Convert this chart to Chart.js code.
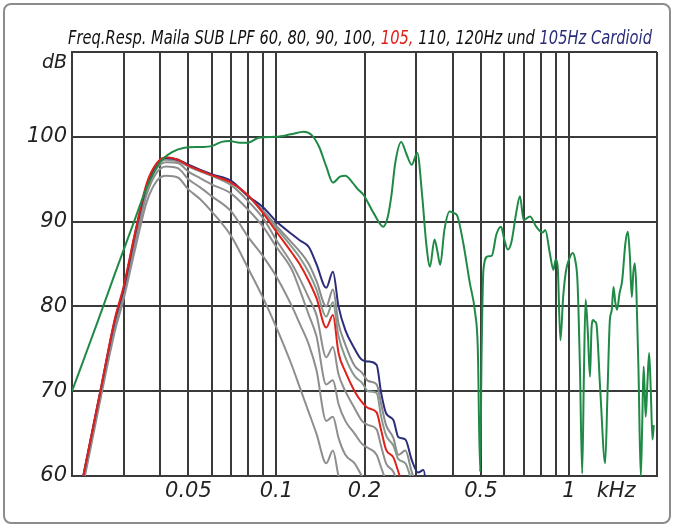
<!DOCTYPE html>
<html><head><meta charset="utf-8">
<script src="https://cdn.jsdelivr.net/npm/chart.js@4.4.0/dist/chart.umd.min.js"></script>
<style>
html,body{margin:0;padding:0;background:#fff;}
#wrap{position:relative;width:674px;height:527px;overflow:hidden;background:#fff;}
#frame{position:absolute;left:3px;top:3px;width:668px;height:521px;box-sizing:border-box;border:2px solid #8c8c8c;border-radius:8px;pointer-events:none;}
#title{position:absolute;left:68px;top:26px;white-space:nowrap;font-family:'Liberation Sans Narrow','DejaVu Sans Condensed','Liberation Sans',sans-serif;font-style:italic;font-size:19px;line-height:22px;color:#111;transform-origin:0 0;}
canvas{position:absolute;left:0;top:0;}
</style></head>
<body><div id="wrap"><canvas id="c" width="674" height="527"></canvas><div id="frame"></div>
<div id="title"><span id="tt">Freq.Resp. Maila SUB LPF 60, 80, 90, 100, <span style="color:#e0201c">105,</span> 110, 120Hz und <span style="color:#2b2d7a">105Hz Cardioid</span></span></div></div>
<script>
// Frequencies (Hz) shared by the low-pass curves
const lpFreqs = [20,22,25,28,30,33,36,39,42,46,50,55,60,70,80,90,100,113,120,129,137,148,156,163,172,185,196,206,220,228,237,251,261,276,290,305,318,330];
const lp60  = [52.3,59.5,69,77,80.8,87,92.3,94.8,95.4, 95.2,93.8,92.6,91.2,88.3,84.5,81,77.5, 73,70.5,67.5,65,61.5,63,60,57.5, 55,53,52,51,50,49,48,47, 46,45,44,43,42];
const lp80  = [52.5,59.8,69.3,77.5,81.3,87.8,93.2,95.8,96.5, 96.3,95,94,93,91.2,88.2,85.9,83.5, 80,78,75.5,72.5,66.5,67,64.5,62.5, 61.5,60,59,58,56.5,55,54,53, 52,51,50,49,48];
const lp90  = [52.7,60,69.5,77.8,81.6,88.3,93.7,96.3,97, 96.9,95.9,95.1,94.4,93.3,91.4,89.4,87, 84.3,82,79,76.5,70.8,71.3,68.5,66.5, 65,63.8,63.3,62.5,61,59.5,58.5,57, 55.5,54,52,51,50];
const lp100 = [52.8,60.2,69.7,78,81.8,88.5,94,96.6,97.3, 97.1,96.5,95.9,95.4,94.3,92.4,90.4,87.8, 85,83.3,81,79,74,75.2,72,70, 68,66.5,66,65.5,63.5,61.5,60.5,59, 57.5,56,54,53,52];
const lp105 = [53,60.5,70,78.5,82.3,89,94.5,96.9,97.6, 97.3,96.6,96,95.5,94.6,93.1,91,88.8, 86.3,85,83,81,77.5,79,74.5,72.3, 70,68.7,68,67.5,65.4,63.1,62.2,60.5, 58,56,54,52,50];
const lp110 = [53,60.3,69.8,78.2,82,88.7,94.2,96.8,97.5, 97.3,96.6,96,95.5,94.6,93,91.1,89.2, 87,85.8,84,82,78.8,80.5,76.5,74, 71.8,71,70,69.8,67,64.8,63.6,62, 61.5,59.5,58,57,54];
const lp120 = [53,60.3,69.8,78.2,82,88.7,94.2,96.8,97.5, 97.3,96.6,96,95.5,94.7,93,91.3,89.5, 87.5,86.5,85,83,80,82,78,75.5, 73,72.2,71.2,70.8,68.5,66,64.5,62.5, 63,60.5,58.5,58,55];
const card105 = [53,60.5,70,78.3,82,88.8,94.2,96.8,97.5, 97.3,96.7,96.1,95.6,94.8,93,91.7,90, 88.5,87.8,87,85,82.2,84.1,80,77.2, 75,73.7,73.5,73.1,69.8,67.4,66.6,64.6, 64.3,61.9,60.4,60.7,56];

// Full-range (green) curve
const mainFreqs = [20,24.6,28,33,36,40,44,48.5,55,60,65,69,75,80,87,100,112,124,132,140,148,156,165,172,182,190,198,215,232,240,247,255,267,278,290,303,315,325,335,347,355,363,375,391,405,416,435,458,478,488,497,503,510,527,545,565,586,600,618,635,660,680,700,736,773,812,830,860,885,900,915,935,955,975,1000,1030,1050,1070,1090,1110,1125,1140,1160,1180,1195,1210,1225,1240,1280,1330,1355,1380,1400,1420,1440,1460,1490,1520,1560,1590,1615,1640,1660,1680,1700,1730,1760,1780,1800,1815,1830,1855,1880,1905,1930,1950];
const mainDb = [70,78.4,83.8,90.5,94,97,98.2,98.7,98.8,98.9,99.4,99.5,99.3,99.3,99.9,100,100.3,100.6,100.2,98.8,96.5,94.6,95.3,95.4,94.6,93.8,93.2,91,89.4,90.5,93,97,99.4,98,96.7,98.1,93,87.5,84.7,87.9,86.5,84.9,89,91.2,91,90.6,87.5,82.8,79.2,75,60.5,75,84.3,85.9,86,88.5,89.4,88,86.7,87.5,91,93,90.2,90.6,89.4,88.7,89,86.3,84.3,85.5,84.7,76,81,84,85.5,86.3,85.5,82.8,73,60.3,72,80.8,77,71.7,77.5,78.4,78.2,78,70,61.5,70,78.4,79.5,82.3,80.5,79.6,81.6,83,87.5,88.8,86,81.1,84,85.1,82,72,59.9,66,72.9,70,67,71,74.5,70,64.3,66];

// Axis ticks
const xTickValues = [20,30,40,50,60,70,80,90,100,200,300,400,500,600,700,800,900,1000,1450,2000];
const xTickLabels = ['','','','0.05','','','','','0.1','0.2','','','0.5','','','','','1','kHz',''];
const yTickValues = [60,70,80,90,100,110];
const yTickLabels = ['60','70','80','90','100',''];

function pts(xs, ys){ return xs.map((x,i)=>({x:x,y:ys[i]})); }
const GRID = '#3a3a3a';
const tickFont = {family:'DejaVu Sans', size:21, style:'italic'};

const series = [
  {label:'LPF 60', d:lp60, c:'#8e8e8e', o:5},
  {label:'LPF 80', d:lp80, c:'#8e8e8e', o:5},
  {label:'LPF 90', d:lp90, c:'#8e8e8e', o:5},
  {label:'LPF 100', d:lp100, c:'#8e8e8e', o:5},
  {label:'LPF 110', d:lp110, c:'#86998c', o:4},
  {label:'LPF 120', d:lp120, c:'#8a8a8a', o:4},
  {label:'105Hz Cardioid', d:card105, c:'#2b2d7a', o:3},
  {label:'LPF 105', d:lp105, c:'#e0201c', o:2}
];
const datasets = series.map(s=>({label:s.label, data:pts(lpFreqs, s.d), borderColor:s.c, borderWidth:2, order:s.o, clip:0}));
datasets.push({label:'Main', data:pts(mainFreqs, mainDb), borderColor:'#1f8a45', borderWidth:2, order:1, clip:0});

const labelPlugin = {
  id:'extraLabels',
  afterDraw(chart){
    const ctx = chart.ctx;
    ctx.save();
    ctx.font = 'italic 19px "DejaVu Sans"';
    ctx.fillStyle = '#222';
    ctx.textAlign = 'right';
    ctx.textBaseline = 'middle';
    ctx.fillText('dB', 67, 63);
    ctx.restore();
  }
};

new Chart(document.getElementById('c'), {
  type:'line',
  data:{datasets:datasets},
  options:{
    responsive:false, animation:false, devicePixelRatio:1,
    layout:{padding:{left:0, top:52, right:17, bottom:0}},
    plugins:{legend:{display:false}, tooltip:{enabled:false}, title:{display:false}},
    elements:{point:{radius:0}, line:{borderWidth:2, cubicInterpolationMode:'monotone'}},
    scales:{
      x:{
        type:'logarithmic', min:20, max:2000,
        afterBuildTicks:(s)=>{ s.ticks = xTickValues.map(v=>({value:v})); },
        afterFit:(s)=>{ s.height = 51; },
        grid:{color:(c)=> (c.tick && c.tick.value===1450) ? 'rgba(0,0,0,0)' : GRID, lineWidth:2, drawTicks:false},
        border:{display:true, color:GRID, width:2},
        ticks:{autoSkip:false, maxRotation:0, minRotation:0, padding:3, font:tickFont, color:'#222',
          callback:(v)=>{ const i = xTickValues.indexOf(v); return i>=0 ? xTickLabels[i] : ''; }}
      },
      y:{
        type:'linear', min:60, max:110,
        afterBuildTicks:(s)=>{ s.ticks = yTickValues.map(v=>({value:v})); },
        afterFit:(s)=>{ s.width = 72; },
        grid:{color:GRID, lineWidth:2, drawTicks:false},
        border:{display:true, color:GRID, width:2},
        ticks:{padding:5, font:tickFont, color:'#222',
          callback:(v)=>{ const i = yTickValues.indexOf(v); return i>=0 ? yTickLabels[i] : ''; }}
      }
    }
  },
  plugins:[labelPlugin]
});

// fit title to reference width
const tt = document.getElementById('title');
const w = tt.getBoundingClientRect().width;
tt.style.transform = 'scaleX(' + (584 / w) + ')';
</script>
</body></html>
